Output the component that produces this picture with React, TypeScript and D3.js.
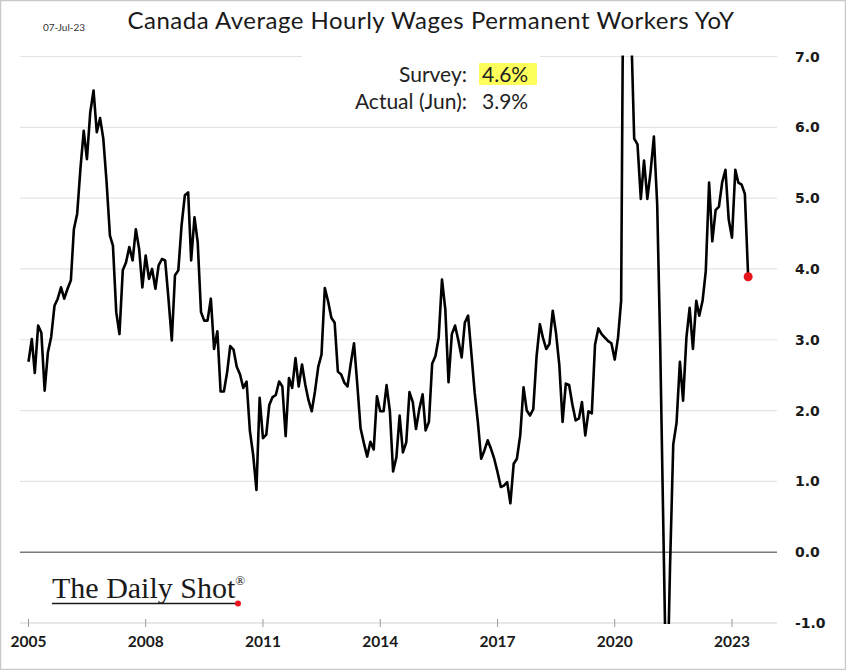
import React from "react";
import * as d3 from "d3";

const TITLE = "Canada Average Hourly Wages Permanent Workers YoY";
const DATE_LABEL = "07-Jul-23";
const SURVEY_LABEL = "Survey:";
const SURVEY_VALUE = "4.6%";
const ACTUAL_LABEL = "Actual (Jun):";
const ACTUAL_VALUE = "3.9%";

const START_YEAR = 2005;
// monthly YoY % values, Jan 2005 .. Jun 2023
const y2005 = [2.69, 3.01, 2.53, 3.2, 3.1, 2.28, 2.82, 3.04, 3.48, 3.58, 3.74, 3.58];
const y2006 = [3.72, 3.84, 4.56, 4.78, 5.41, 5.95, 5.55, 6.21, 6.52, 5.93, 6.13, 5.84];
const y2007 = [5.22, 4.47, 4.33, 3.39, 3.08, 3.98, 4.09, 4.31, 4.12, 4.56, 4.28, 3.74];
const y2008 = [4.19, 3.86, 4.0, 3.72, 4.05, 4.14, 4.12, 3.58, 2.99, 3.91, 3.98, 4.61];
const y2009 = [5.04, 5.08, 4.12, 4.73, 4.38, 3.39, 3.27, 3.27, 3.58, 2.87, 3.12, 2.27];
const y2010 = [2.27, 2.55, 2.91, 2.86, 2.62, 2.51, 2.32, 2.41, 1.71, 1.38, 0.88, 2.18];
const y2011 = [1.61, 1.66, 2.08, 2.19, 2.22, 2.41, 2.34, 1.64, 2.46, 2.32, 2.74, 2.34];
const y2012 = [2.65, 2.36, 2.15, 1.99, 2.27, 2.62, 2.79, 3.73, 3.54, 3.31, 3.24, 2.55];
const y2013 = [2.51, 2.39, 2.34, 2.67, 2.95, 2.36, 1.75, 1.54, 1.35, 1.56, 1.45, 2.2];
const y2014 = [1.99, 1.99, 2.36, 1.99, 1.14, 1.34, 1.93, 1.41, 1.55, 2.26, 2.12, 1.74];
const y2015 = [2.02, 2.23, 1.72, 1.84, 2.66, 2.77, 3.03, 3.85, 3.43, 2.4, 3.08, 3.2];
const y2016 = [2.99, 2.75, 3.24, 3.34, 2.82, 2.26, 1.84, 1.32, 1.44, 1.58, 1.46, 1.32];
const y2017 = [1.13, 0.92, 0.94, 0.99, 0.69, 1.25, 1.32, 1.65, 2.33, 2.0, 1.93, 2.02];
const y2018 = [2.77, 3.22, 3.03, 2.87, 2.94, 3.41, 3.1, 2.65, 1.84, 2.38, 2.36, 2.09];
const y2019 = [1.86, 1.89, 2.12, 1.65, 1.99, 1.96, 2.93, 3.16, 3.08, 3.03, 2.98, 2.95];
const y2020 = [2.72, 3.03, 3.55, 10.9, 10.2, 7.5, 5.84, 5.76, 4.99, 5.53, 4.99, 5.37];
const y2021 = [5.87, 4.91, 2.93, 0.2, -2.4, -0.2, 1.52, 1.83, 2.69, 2.14, 3.03, 3.45];
const y2022 = [2.87, 3.55, 3.34, 3.55, 3.97, 5.22, 4.39, 4.83, 4.88, 5.22, 5.4, 4.7];
const y2023 = [4.44, 5.4, 5.22, 5.19, 5.06, 3.89];

const yearly = [y2005, y2006, y2007, y2008, y2009, y2010, y2011, y2012, y2013, y2014, y2015, y2016, y2017, y2018, y2019, y2020, y2021, y2022, y2023];

const yTicks = [-1, 0, 1, 2, 3, 4, 5, 6, 7];
const xTickYears = [2005, 2008, 2011, 2014, 2017, 2020, 2023];

const W = 846;
const H = 670;

export default function App() {
  const data = yearly.flatMap((arr, yi) =>
    arr.map((v, mi) => ({ date: new Date(START_YEAR + yi, mi, 1), value: v }))
  );

  const x = d3
    .scaleTime()
    .domain([new Date(2005, 0, 1), new Date(2023, 0, 1)])
    .range([28.5, 732]);
  const y = d3.scaleLinear().domain([-1, 7]).range([623, 56.5]);

  const plotLeft = 20;
  const plotRight = 777;

  const line = d3
    .line<{ date: Date; value: number }>()
    .x((d) => x(d.date))
    .y((d) => y(d.value));

  const last = data[data.length - 1];

  return (
    <svg
      width={W}
      height={H}
      style={{ position: "absolute", left: 0, top: 0, background: "#fff" }}
      fontFamily="Lato, 'Open Sans', sans-serif"
    >
      <rect x={0} y={0} width={W} height={H} fill="#fff" />
      <rect x={0.5} y={0.5} width={W - 1} height={H - 1} fill="none" stroke="#c9c9c9" strokeWidth={1.5} />
      <defs>
        <clipPath id="plotclip">
          <rect x={plotLeft} y={y(7) - 1} width={plotRight - plotLeft} height={y(-1) - y(7) + 2} />
        </clipPath>
      </defs>

      {/* gridlines */}
      {yTicks.map((t) => (
        <line
          key={"g" + t}
          x1={plotLeft}
          x2={plotRight}
          y1={y(t)}
          y2={y(t)}
          stroke={t === 0 ? "#7a7a7a" : t === -1 ? "#cfcfcf" : "#e3e3e3"}
          strokeWidth={t === 0 ? 1.5 : 1.2}
        />
      ))}

      {/* x-axis ticks */}
      {xTickYears.map((yr) => (
        <line
          key={"t" + yr}
          x1={x(new Date(yr, 0, 1))}
          x2={x(new Date(yr, 0, 1))}
          y1={y(-1) - 4}
          y2={y(-1) + 4}
          stroke="#9a9a9a"
          strokeWidth={1}
        />
      ))}
      {xTickYears.map((yr) => (
        <text
          key={"xl" + yr}
          x={x(new Date(yr, 0, 1))}
          y={647}
          textAnchor="middle"
          fontSize={15.5}
          fontWeight={700}
          fill="#1a1a1a"
        >
          {yr}
        </text>
      ))}

      {/* y labels */}
      {yTicks.map((t) => (
        <text
          key={"yl" + t}
          x={795}
          y={y(t)}
          dy="0.36em"
          fontSize={14}
          fontWeight={700}
          fontFamily="'DejaVu Sans', Verdana, sans-serif"
          fill="#1a1a1a"
        >
          {t.toFixed(1)}
        </text>
      ))}

      {/* annotation box covering the top gridline */}
      <rect x={302} y={50} width={238} height={68} fill="#fff" />
      <text x={467} y={82} textAnchor="end" fontSize={21} fill="#222">
        {SURVEY_LABEL}
      </text>
      <rect x={479} y={63} width={58} height={22} fill="#ffff5c" />
      <text x={482} y={82} fontSize={21} fill="#222">
        {SURVEY_VALUE}
      </text>
      <text x={467} y={109} textAnchor="end" fontSize={21} fill="#222">
        {ACTUAL_LABEL}
      </text>
      <text x={482} y={109} fontSize={21} fill="#222">
        {ACTUAL_VALUE}
      </text>

      {/* series */}
      <g clipPath="url(#plotclip)">
        <path
          d={line(data) || ""}
          fill="none"
          stroke="#000"
          strokeWidth={2.6}
          strokeLinejoin="round"
        />
      </g>
      <circle cx={x(last.date)} cy={y(last.value)} r={4.5} fill="#e8141b" />

      {/* title & date */}
      <text x={431} y={29} textAnchor="middle" fontSize={24} letterSpacing={0.5} fill="#1a1a1a">
        {TITLE}
      </text>
      <text x={43} y={31} fontSize={10} fill="#333">
        {DATE_LABEL}
      </text>

      {/* logo */}
      <text
        x={52}
        y={598}
        fontSize={30}
        fontFamily="'Liberation Serif', 'DejaVu Serif', serif"
        fill="#1a1a1a"
      >
        The Daily Shot
        <tspan fontSize={13} dy={-13}>®</tspan>
      </text>
      <line x1={52} x2={236} y1={603.5} y2={603.5} stroke="#1a1a1a" strokeWidth={1.6} />
      <circle cx={238} cy={603.5} r={3} fill="#e8141b" />
    </svg>
  );
}
